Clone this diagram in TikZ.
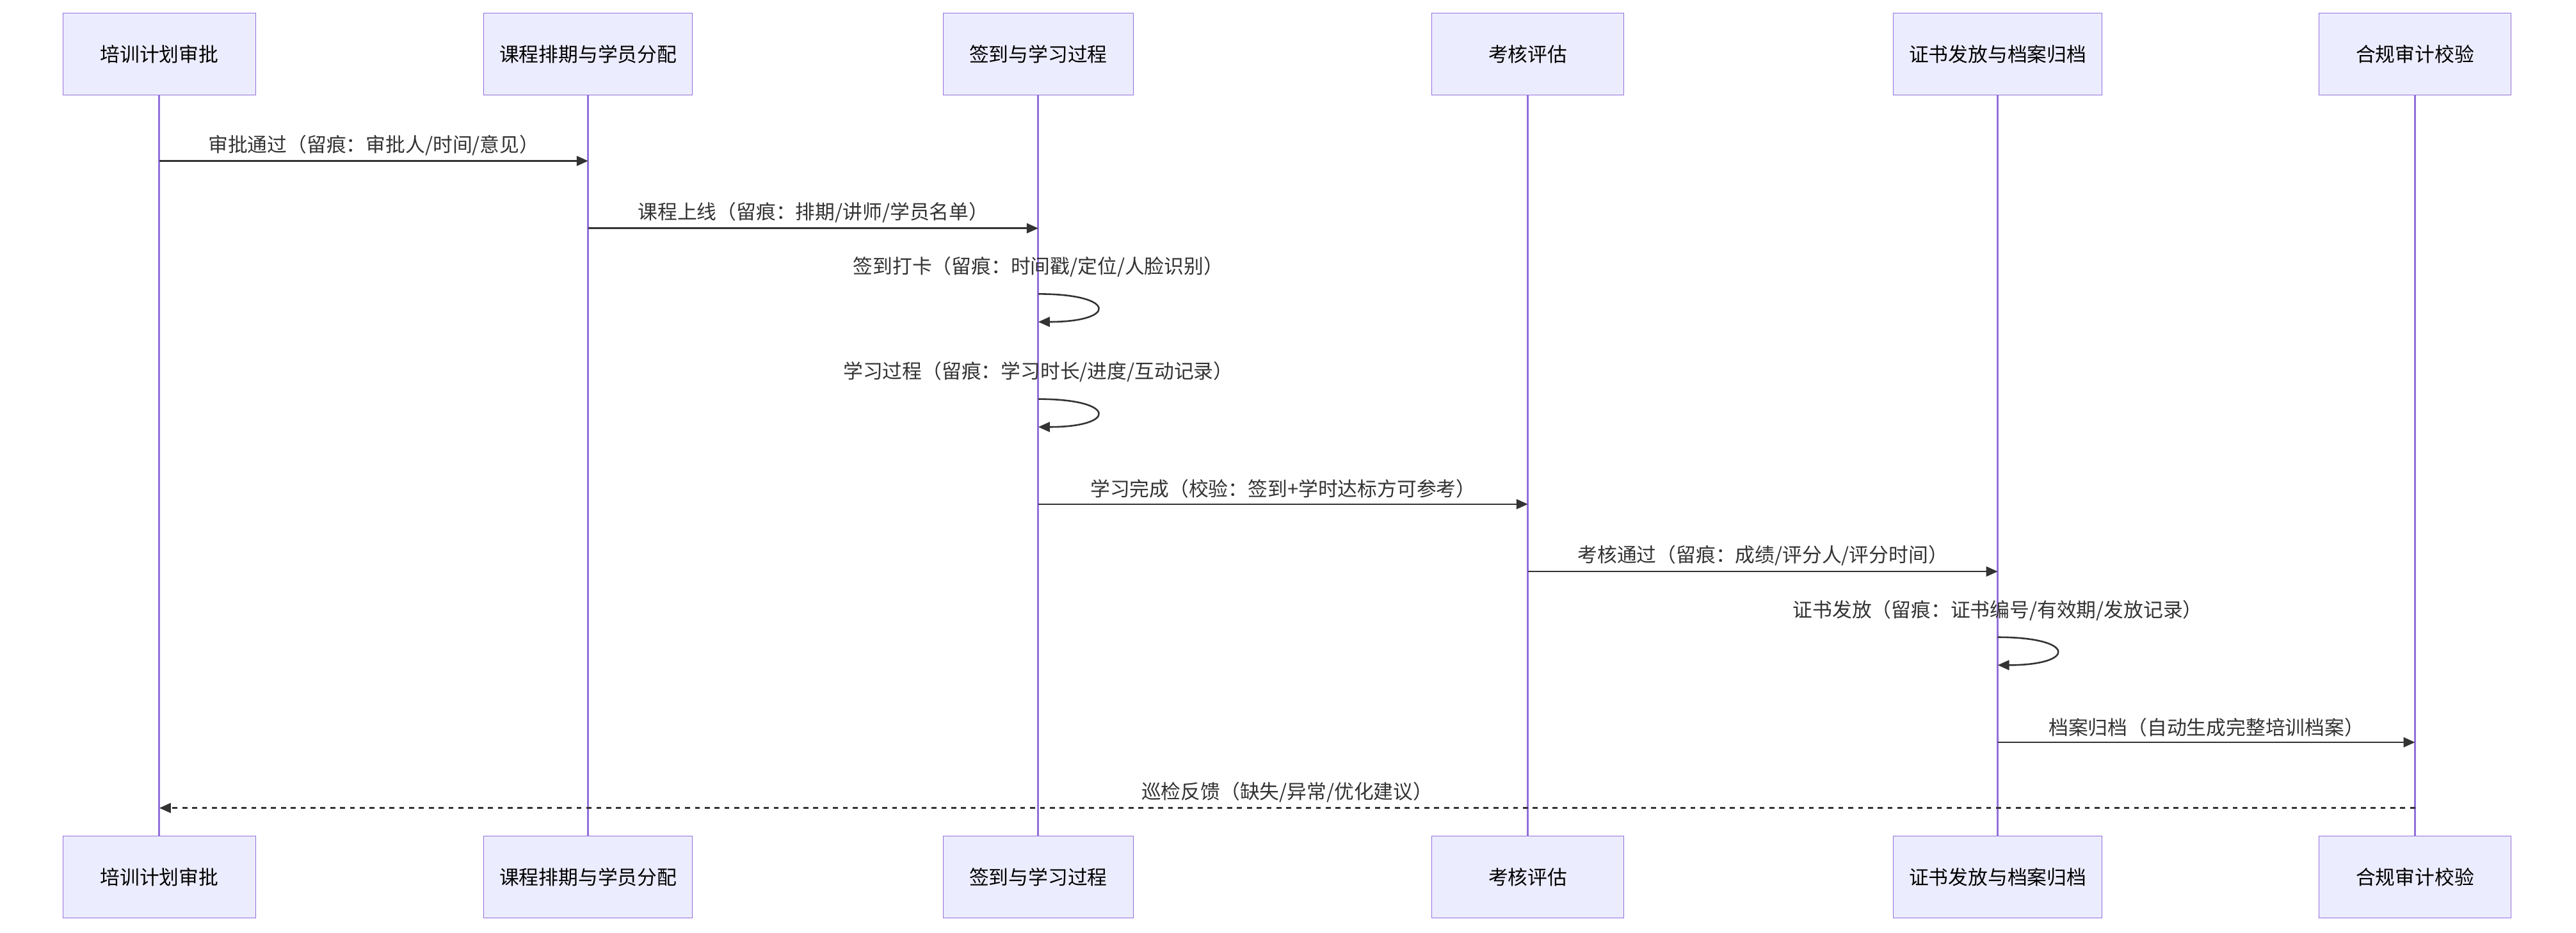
\documentclass[tikz,border=0pt]{standalone}
\usepackage{fontspec}
\setmainfont{Noto Sans CJK SC}
\usetikzlibrary{arrows.meta}
\definecolor{boxfill}{HTML}{ECECFF}
\definecolor{boxline}{HTML}{9370DB}
\definecolor{msgline}{HTML}{333333}
\begin{document}
\begin{tikzpicture}[x=1pt, y=-1pt, font=\fontsize{12}{14}\selectfont]
    \tikzstyle{actor} = [draw=boxline, fill=boxfill, minimum height=50pt, inner sep=2pt]
    \tikzstyle{life} = [draw=boxline, line width=1.2pt]
    \tikzstyle{msg} = [draw=msgline, line width=1pt, -{Triangle[length=7pt, width=6pt]}]
    \tikzstyle{note} = [text=msgline, above, inner sep=3pt]
    \useasboundingbox (0,0) rectangle (1568,568);

    % participants
    \foreach \n/\x/\w/\t in {A/97/117/培训计划审批, B/358/127/课程排期与学员分配, C/632/116/签到与学习过程,
                             D/930/117/考核评估, E/1216/127/证书发放与档案归档, F/1470/117/合规审计校验} {
        \node [actor, minimum width=\w pt] (\n top) at (\x,33) {\t};
        \node [actor, minimum width=\w pt] (\n bot) at (\x,534) {\t};
        \draw [life] (\n top) -- (\n bot);
    }

    % points on the lifelines
    \foreach \n/\x in {A/97, B/358, C/632, D/930, E/1216, F/1470}
        \foreach \y in {98, 139, 179, 196, 243, 260, 307, 348, 388, 405, 452, 492}
            \coordinate (\n\y) at (\x,\y);

    \draw [msg] (A98) -- node [note] {审批通过（留痕：审批人/时间/意见）} (B98);
    \draw [msg] (B139) -- node [note] {课程上线（留痕：排期/讲师/学员名单）} (C139);
    \draw [msg] (C179) .. controls ([xshift=48pt]C179) and ([xshift=48pt]C196) .. (C196);
    \node [note] at (632,172) {签到打卡（留痕：时间戳/定位/人脸识别）};
    \draw [msg] (C243) .. controls ([xshift=48pt]C243) and ([xshift=48pt]C260) .. (C260);
    \node [note] at (632,236) {学习过程（留痕：学习时长/进度/互动记录）};
    \draw [msg] (C307) -- node [note] {学习完成（校验：签到+学时达标方可参考）} (D307);
    \draw [msg] (D348) -- node [note] {考核通过（留痕：成绩/评分人/评分时间）} (E348);
    \draw [msg] (E388) .. controls ([xshift=48pt]E388) and ([xshift=48pt]E405) .. (E405);
    \node [note] at (1216,381) {证书发放（留痕：证书编号/有效期/发放记录）};
    \draw [msg] (E452) -- node [note] {档案归档（自动生成完整培训档案）} (F452);
    \draw [msg, dashed] (F492) -- node [note] {巡检反馈（缺失/异常/优化建议）} (A492);
\end{tikzpicture}
\end{document}
